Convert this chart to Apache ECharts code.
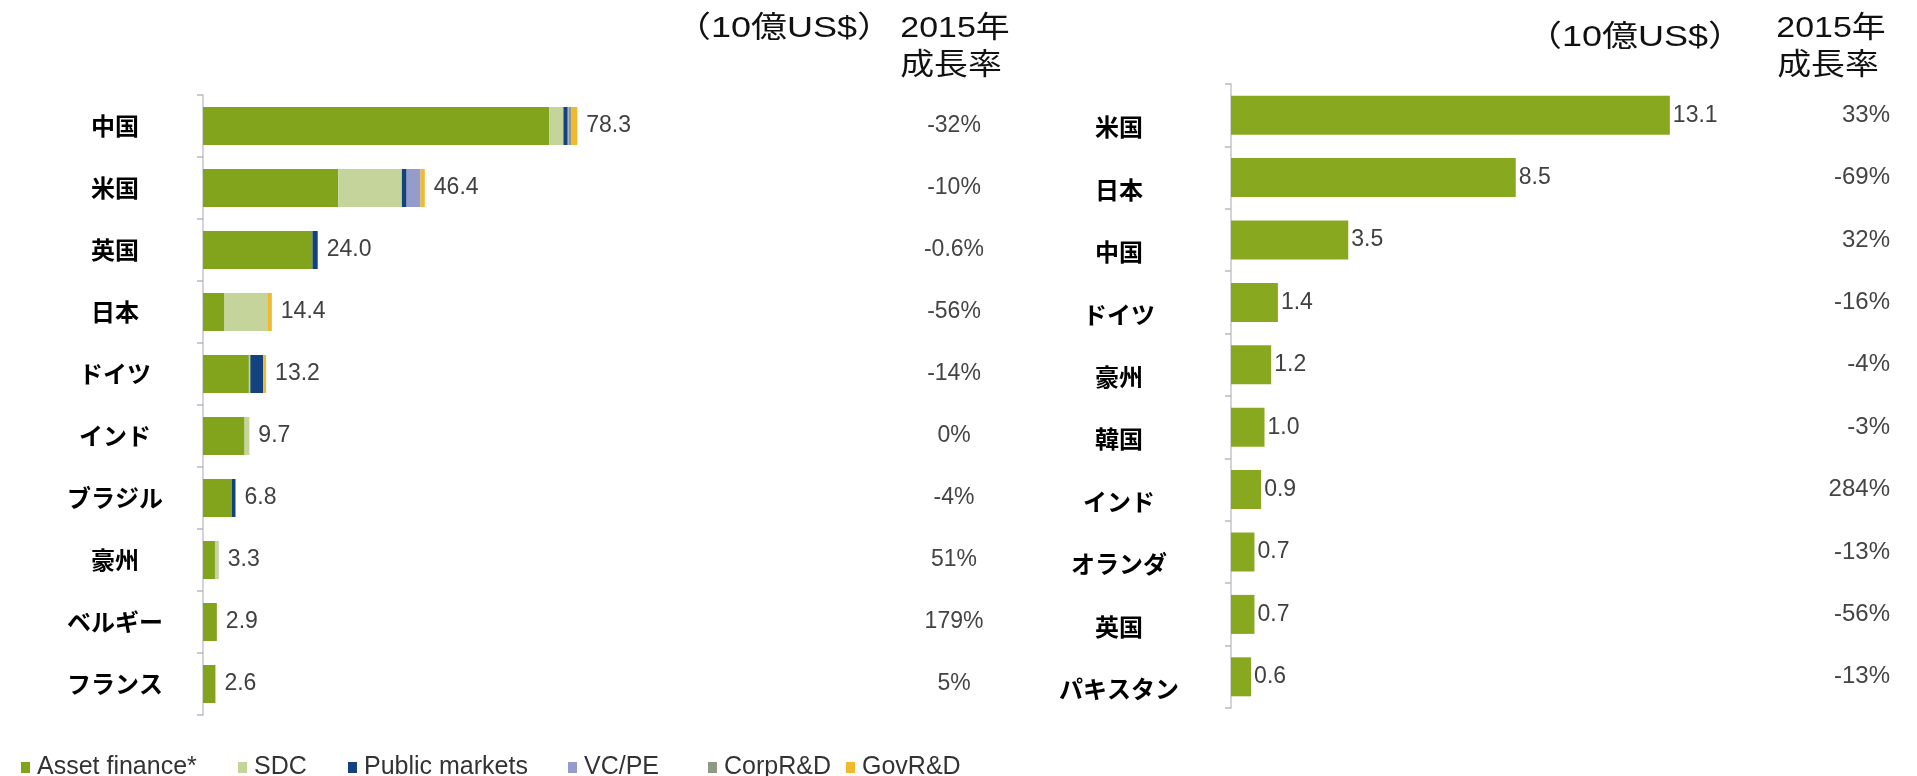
<!DOCTYPE html>
<html>
<head>
<meta charset="utf-8">
<title>再生可能エネルギー投資</title>
<script src="https://cdn.jsdelivr.net/npm/echarts@6/dist/echarts.min.js"></script>
<style>
  html, body { margin: 0; padding: 0; background: #fff; }
  #chart { width: 1917px; height: 776px; }
</style>
</head>
<body>
<div id="chart"></div>
<script>
// left: new investment by country (stacked by type)
const leftCountries = ['中国', '米国', '英国', '日本', 'ドイツ', 'インド', 'ブラジル', '豪州', 'ベルギー', 'フランス']
const assetFinance = [72.4, 28.3, 22.9, 4.5, 9.6, 8.7, 6.0, 2.5, 2.9, 2.6]
const sdc = [3.0, 13.3, 0, 9.1, 0.3, 1.0, 0, 0.8, 0, 0]
const publicMarkets = [0.9, 1.0, 1.1, 0, 2.7, 0, 0.8, 0, 0, 0]
const vcpe = [0.2, 2.9, 0, 0, 0, 0, 0, 0, 0, 0]
const corpRD = [0.5, 0, 0, 0, 0, 0, 0, 0, 0, 0]
const govRD = [1.3, 0.9, 0, 0.8, 0.6, 0, 0, 0, 0, 0]
const leftTotals = [78.3, 46.4, 24.0, 14.4, 13.2, 9.7, 6.8, 3.3, 2.9, 2.6]
const leftGrowth = ['-32%', '-10%', '-0.6%', '-56%', '-14%', '0%', '-4%', '51%', '179%', '5%']

// right: single series
const rightCountries = ['米国', '日本', '中国', 'ドイツ', '豪州', '韓国', 'インド', 'オランダ', '英国', 'パキスタン']
const rightValues = [13.1, 8.5, 3.5, 1.4, 1.2, 1.0, 0.9, 0.7, 0.7, 0.6]
const rightGrowth = ['33%', '-69%', '32%', '-16%', '-4%', '-3%', '284%', '-13%', '-56%', '-13%']

const seriesNames = ['Asset finance*', 'SDC', 'Public markets', 'VC/PE', 'CorpR&D', 'GovR&D']
const seriesData = [assetFinance, sdc, publicMarkets, vcpe, corpRD, govRD]
const colors = ['#82a31c', '#c5d49b', '#14427e', '#959ccc', '#8e9a82', '#f0b92e']
const legendLeft = [16, 233, 343, 563, 703, 841]

const numFont = "'Liberation Sans', Arial, sans-serif"
const cjkFont = "'Noto Sans CJK JP', sans-serif"
const headFont = "'Liberation Sans', 'Noto Sans CJK JP', sans-serif"

const chart = echarts.init(document.getElementById('chart'))

const axisLineStyle = { lineStyle: { color: '#c4c4cc', width: 1.5 } }
const axisTickStyle = { show: true, length: 6, lineStyle: { color: '#b8b8c0', width: 1.5 } }

const series = seriesNames.map((name, i) => ({
  name: name,
  type: 'bar',
  stack: 'total',
  xAxisIndex: 0,
  yAxisIndex: 0,
  barWidth: 38,
  itemStyle: { color: colors[i] },
  data: seriesData[i]
}))
// totals label on a transparent overlay bar
series.push({
  name: 'total',
  type: 'bar',
  xAxisIndex: 0,
  yAxisIndex: 0,
  barWidth: 38,
  barGap: '-100%',
  silent: true,
  itemStyle: { color: 'rgba(0,0,0,0)' },
  label: {
    show: true,
    position: 'right',
    distance: 9,
    color: '#404040',
    fontSize: 23,
    fontFamily: numFont,
    formatter: p => p.value.toFixed(1)
  },
  data: leftTotals
})
series.push({
  name: 'right',
  type: 'bar',
  xAxisIndex: 1,
  yAxisIndex: 2,
  barWidth: 39,
  itemStyle: { color: '#88a81f' },
  label: {
    show: true,
    position: 'right',
    distance: 3,
    color: '#404040',
    fontSize: 23,
    fontFamily: numFont,
    formatter: p => p.value.toFixed(1)
  },
  data: rightValues
})

// header text, source image is a bit stretched sideways
const headText = (x, y, text, size, sx) => ({
  type: 'text',
  x: x,
  y: y,
  scaleX: sx,
  style: {
    text: text,
    fontSize: size,
    fontFamily: headFont,
    fill: '#111',
    align: 'center',
    verticalAlign: 'middle'
  }
})

chart.setOption({
  animation: false,
  legend: seriesNames.map((name, i) => ({
    data: [name],
    left: legendLeft[i],
    top: 750,
    icon: 'rect',
    itemWidth: 9,
    itemHeight: 11,
    itemGap: 0,
    selectedMode: false,
    textStyle: { fontSize: 25, fontFamily: numFont, color: '#333', padding: [0, 0, 0, 2] }
  })),
  graphic: [
    headText(784, 29, '（10億US$）', 30, 1.2),
    headText(955, 29, '2015年', 30, 1.13),
    headText(951, 66, '成長率', 30, 1.13),
    headText(1635, 38, '（10億US$）', 30, 1.2),
    headText(1831, 29, '2015年', 30, 1.13),
    headText(1828, 66, '成長率', 30, 1.13)
  ],
  grid: [
    { left: 203, top: 95, width: 478, height: 620 },
    { left: 1231, top: 84, width: 603, height: 624 }
  ],
  xAxis: [
    { type: 'value', gridIndex: 0, min: 0, max: 100, show: false },
    { type: 'value', gridIndex: 1, min: 0, max: 18, show: false }
  ],
  yAxis: [
    {
      type: 'category',
      gridIndex: 0,
      inverse: true,
      data: leftCountries,
      axisLine: axisLineStyle,
      axisTick: axisTickStyle,
      axisLabel: {
        align: 'center',
        margin: 88,
        fontSize: 24,
        fontWeight: 'bold',
        fontFamily: cjkFont,
        color: '#000'
      }
    },
    {
      type: 'category',
      gridIndex: 0,
      position: 'right',
      inverse: true,
      data: leftGrowth,
      axisLine: { show: false },
      axisTick: { show: false },
      axisLabel: {
        align: 'center',
        margin: 273,
        fontSize: 23,
        fontFamily: numFont,
        color: '#444'
      }
    },
    {
      type: 'category',
      gridIndex: 1,
      inverse: true,
      data: rightCountries,
      axisLine: axisLineStyle,
      axisTick: axisTickStyle,
      axisLabel: {
        align: 'center',
        verticalAlign: 'top',
        margin: 112,
        fontSize: 24,
        fontWeight: 'bold',
        fontFamily: cjkFont,
        color: '#000'
      }
    },
    {
      type: 'category',
      gridIndex: 1,
      position: 'right',
      inverse: true,
      data: rightGrowth,
      axisLine: { show: false },
      axisTick: { show: false },
      axisLabel: {
        align: 'right',
        margin: 56,
        fontSize: 24,
        fontFamily: numFont,
        color: '#444'
      }
    }
  ],
  series: series
})
</script>
</body>
</html>
